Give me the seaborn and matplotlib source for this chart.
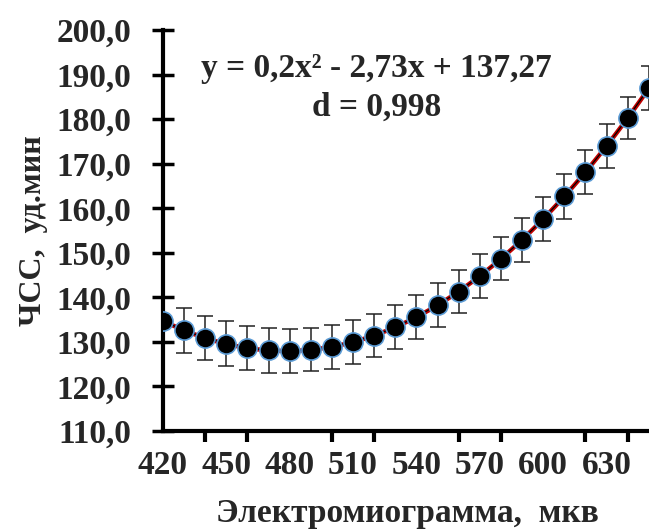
import matplotlib.pyplot as plt
import seaborn as sns
import pandas as pd

# data
emg = [420, 430, 440, 450, 460, 470, 480, 490, 500, 510, 520, 530,
       540, 550, 560, 570, 580, 590, 600, 610, 620, 630, 640, 650]
hr = [134.7, 132.6, 130.9, 129.6, 128.6, 128.1, 128.0, 128.2, 128.9, 130.0, 131.4, 133.3,
      135.6, 138.3, 141.3, 144.8, 148.7, 152.9, 157.6, 162.7, 168.1, 174.0, 180.3, 187.0]
err = [0.0, 5.0, 4.9, 5.0, 5.0, 5.0, 4.9, 4.8, 4.9, 4.9, 4.8, 4.9,
       4.9, 4.9, 4.9, 4.9, 4.9, 4.9, 5.0, 5.0, 4.9, 4.9, 4.8, 5.0]
y_ticks = [110, 120, 130, 140, 150, 160, 170, 180, 190, 200]
x_labels = [420, 450, 480, 510, 540, 570, 600, 630]

df = pd.DataFrame({'emg': emg, 'hr': hr, 'err': err})

sns.set_style('ticks')
plt.rcParams['font.family'] = ['Liberation Serif', 'DejaVu Serif']
plt.rcParams['font.weight'] = 'bold'

fig = plt.figure(figsize=(6.49, 5.30), dpi=100)
ax = fig.add_axes([0.251, 0.187, 0.752, 0.756])

# trendline (2nd order polynomial)
sns.regplot(x='emg', y='hr', data=df, order=2, ci=None, scatter=False,
            line_kws={'color': '#C00000', 'lw': 3.2, 'zorder': 2}, ax=ax)
sns.lineplot(x='emg', y='hr', data=df, color='black', lw=0.9, zorder=3, ax=ax)
ax.errorbar(df['emg'], df['hr'], yerr=df['err'], fmt='none', ecolor='#222222',
            elinewidth=1.1, capsize=5.5, capthick=1.1, zorder=4)
sns.scatterplot(x='emg', y='hr', data=df, s=190, color='black',
                edgecolor='#5B9BD5', linewidth=1.2, zorder=5, ax=ax)

ax.set_xlim(420, 651)
ax.set_ylim(110, 200)
ax.set_yticks(y_ticks)
ax.set_yticklabels([f'{v},0' for v in y_ticks], fontsize=24, fontweight='bold')
ax.set_xticks(x_labels)
ax.set_xticklabels([str(v) for v in x_labels], fontsize=24, fontweight='bold')
ax.set_xticks(list(range(420, 651, 20)), minor=True)
ax.tick_params(axis='x', which='major', length=0, pad=14)
ax.tick_params(axis='x', which='minor', direction='out', length=8, width=3, color='black')
ax.tick_params(axis='y', direction='inout', length=16, width=2.5, color='black', pad=15)

for s in ['top', 'right']:
    ax.spines[s].set_visible(False)
for s in ['left', 'bottom']:
    ax.spines[s].set_linewidth(3)
    ax.spines[s].set_color('black')
ax.spines['bottom'].set_zorder(6)

ax.set_xlabel('Электромиограмма,  мкв', fontsize=24, fontweight='bold', labelpad=12)
ax.set_ylabel('ЧСС,  уд.мин', fontsize=23, fontweight='bold', labelpad=6)

ax.text(521, 191.5, 'y = 0,2x² - 2,73x + 137,27', ha='center', va='center',
        fontsize=24, fontweight='bold')
ax.text(521, 182.6, 'd = 0,998', ha='center', va='center', fontsize=24, fontweight='bold')

fig.savefig('out.png', dpi=100)
